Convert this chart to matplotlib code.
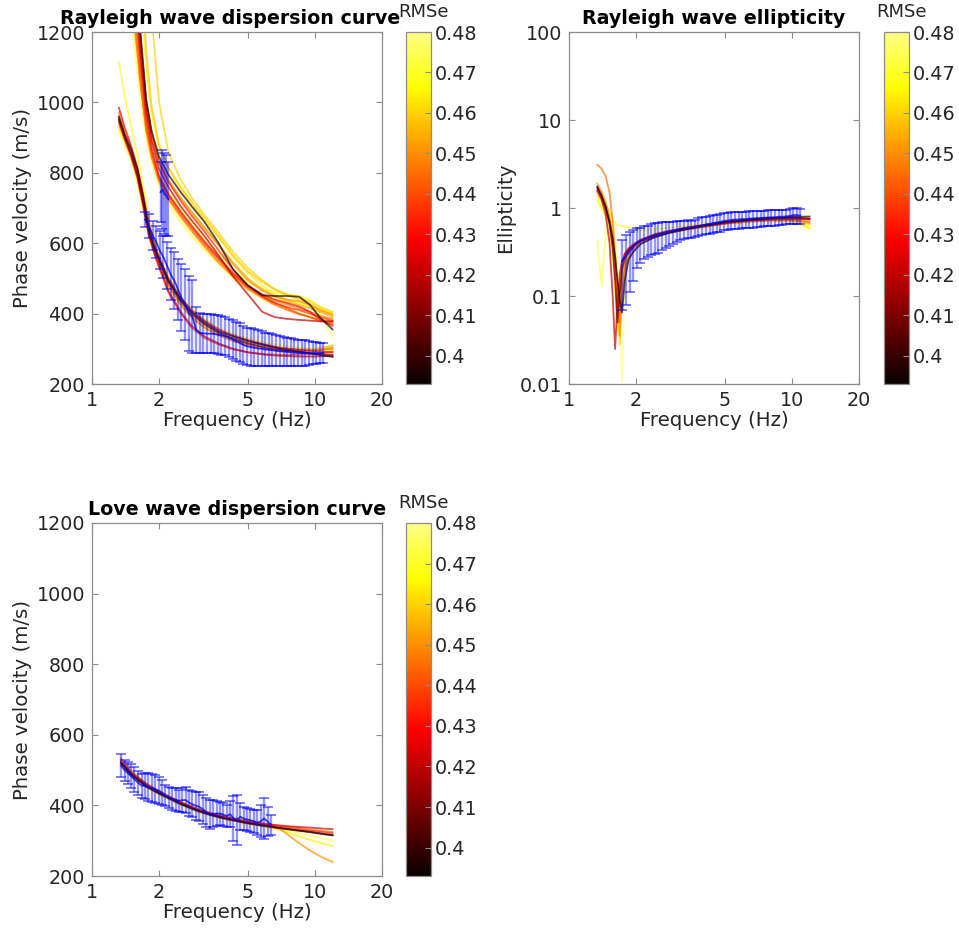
import matplotlib
matplotlib.use("Agg")
import matplotlib.pyplot as plt
from matplotlib.colors import ListedColormap, Normalize
from matplotlib.cm import ScalarMappable
from matplotlib.ticker import FixedLocator, FuncFormatter, NullLocator

# ---------------- observed data ----------------
# Rayleigh fundamental mode + ellipticity share the same frequency samples
obs_freq = [1.73, 1.80, 1.87, 1.94, 2.01, 2.09, 2.17, 2.25, 2.34, 2.43,
            2.52, 2.62, 2.72, 2.82, 2.93, 3.04, 3.16, 3.28, 3.41, 3.54,
            3.67, 3.81, 3.96, 4.11, 4.27, 4.43, 4.60, 4.78, 4.96, 5.15,
            5.35, 5.55, 5.77, 5.99, 6.22, 6.45, 6.70, 6.96, 7.23, 7.50,
            7.79, 8.09, 8.40, 8.72, 9.06, 9.40, 9.76, 10.1, 10.5, 10.9]
ray_obs_mean = [667, 648, 623, 604, 580, 561, 537, 512, 494, 469,
                445, 426, 401, 392, 354, 345, 344, 343, 343, 342,
                340, 338, 336, 332, 327, 321, 317, 311, 307, 305,
                303, 301, 300, 298, 297, 296, 294, 293, 292, 291,
                290, 289, 288, 288, 288, 288, 288, 288, 288, 288]
ray_obs_std = [22, 34, 41, 46, 54, 59, 67, 74, 80, 87,
               95, 100, 107, 104, 66, 57, 56, 55, 55, 54,
               55, 55, 54, 54, 55, 55, 55, 54, 53, 53,
               52, 51, 50, 48, 47, 46, 44, 43, 42, 41,
               40, 39, 38, 37, 36, 34, 32, 30, 29, 28]

ray1_obs_freq = [2.03, 2.07, 2.11, 2.15, 2.20]
ray1_obs_mean = [745, 752, 740, 735, 725]
ray1_obs_std = [85, 112, 115, 115, 105]

ell_obs_mean = [0.25, 0.285, 0.32, 0.355, 0.40, 0.42, 0.44, 0.455, 0.47, 0.485,
                0.495, 0.51, 0.52, 0.535, 0.545, 0.56, 0.575, 0.585, 0.595, 0.59,
                0.605, 0.62, 0.635, 0.65, 0.66, 0.675, 0.685, 0.695, 0.715, 0.72,
                0.73, 0.74, 0.74, 0.75, 0.75, 0.76, 0.76, 0.77, 0.77, 0.775,
                0.78, 0.785, 0.785, 0.795, 0.795, 0.805, 0.81, 0.83, 0.83, 0.82]
ell_obs_std = [0.18, 0.205, 0.21, 0.205, 0.19, 0.18, 0.18, 0.175, 0.18, 0.185,
               0.185, 0.18, 0.17, 0.165, 0.155, 0.15, 0.145, 0.135, 0.135, 0.13,
               0.135, 0.14, 0.145, 0.15, 0.15, 0.155, 0.155, 0.155, 0.155, 0.16,
               0.16, 0.16, 0.16, 0.16, 0.16, 0.16, 0.16, 0.16, 0.16, 0.155,
               0.16, 0.155, 0.155, 0.155, 0.155, 0.155, 0.16, 0.17, 0.17, 0.16]

love_obs_freq = [1.35, 1.40, 1.45, 1.50, 1.55, 1.61, 1.67, 1.73, 1.79, 1.85,
                 1.92, 1.99, 2.06, 2.13, 2.21, 2.29, 2.37, 2.45, 2.54, 2.63,
                 2.73, 2.82, 2.93, 3.03, 3.14, 3.25, 3.37, 3.49, 3.62, 3.75,
                 3.88, 4.02, 4.16, 4.31, 4.47, 4.63, 4.79, 4.97, 5.14, 5.33,
                 5.52, 5.72, 5.92, 6.14, 6.36]
love_obs_mean = [513, 500, 491, 483, 474, 464, 456, 455, 452, 450,
                 446, 442, 436, 428, 422, 418, 416, 413, 415, 415,
                 408, 403, 399, 396, 389, 381, 374, 376, 377, 377,
                 374, 370, 375, 364, 359, 368, 363, 360, 358, 355,
                 351, 355, 363, 354, 345]
love_obs_std = [32, 30, 31, 35, 36, 34, 34, 37, 40, 40,
                39, 38, 36, 31, 30, 31, 32, 32, 35, 37,
                37, 37, 39, 41, 41, 41, 42, 38, 35, 33,
                32, 30, 37, 64, 71, 38, 33, 32, 33, 33,
                36, 45, 57, 42, 29]

# ---------------- model curves ----------------
ray0_freq = [1.32, 1.4, 1.5, 1.6, 1.7, 1.8, 1.9, 2.0, 2.2, 2.5,
             2.8, 3.2, 3.7, 4.3, 5.0, 6.0, 7.0, 8.5, 10.0, 12.0]
ray0_rmse = [0.475, 0.47, 0.46, 0.45, 0.445, 0.44, 0.43, 0.425, 0.41, 0.395]
ray0_curves = [
    [920, 880, 835, 770, 690, 615, 570, 535, 475, 420, 385, 358, 340, 325, 314, 305, 300, 297, 296, 295],
    [1115, 1020, 930, 850, 760, 670, 610, 565, 505, 450, 415, 385, 360, 343, 330, 318, 310, 303, 300, 297],
    [930, 890, 840, 780, 705, 625, 580, 545, 485, 430, 395, 365, 342, 327, 315, 305, 300, 298, 300, 310],
    [970, 920, 870, 805, 720, 640, 590, 550, 490, 435, 398, 368, 345, 330, 318, 308, 302, 298, 296, 305],
    [940, 895, 845, 785, 700, 620, 575, 540, 480, 425, 390, 360, 338, 322, 310, 300, 295, 293, 295, 300],
    [945, 898, 848, 788, 705, 622, 570, 530, 460, 400, 360, 330, 312, 298, 290, 285, 283, 283, 285, 292],
    [985, 930, 875, 815, 735, 655, 600, 560, 500, 445, 410, 380, 355, 338, 325, 312, 303, 297, 293, 290],
    [955, 905, 855, 795, 715, 630, 575, 535, 465, 405, 365, 335, 315, 300, 290, 283, 280, 278, 278, 280],
    [950, 900, 850, 790, 710, 630, 585, 550, 490, 435, 400, 370, 345, 328, 315, 303, 296, 290, 286, 283],
    [960, 910, 865, 810, 730, 640, 590, 555, 495, 440, 405, 375, 350, 335, 322, 310, 300, 292, 285, 277],
]

ray1_freq = [1.45, 1.55, 1.65, 1.75, 1.85, 2.0, 2.2, 2.5, 2.8, 3.2,
             3.7, 4.3, 5.0, 5.8, 6.6, 7.5, 8.5, 9.5, 10.5, 12.0]
ray1_rmse = [0.48, 0.475, 0.47, 0.465, 0.46, 0.458, 0.455, 0.45, 0.448,
             0.445, 0.44, 0.435, 0.43, 0.42, 0.395]
ray1_curves = [
    [1300, 1150, 1010, 900, 835, 770, 720, 668, 628, 585, 543, 500, 465, 440, 425, 415, 405, 395, 385, 375],
    [1400, 1200, 1030, 900, 830, 760, 710, 660, 620, 580, 540, 500, 470, 450, 440, 435, 430, 420, 400, 335],
    [1550, 1280, 1080, 935, 860, 790, 745, 700, 660, 615, 570, 525, 490, 470, 460, 455, 450, 440, 420, 400],
    [2000, 1700, 1350, 1100, 970, 870, 810, 755, 710, 665, 615, 560, 515, 480, 455, 440, 430, 420, 410, 400],
    [2500, 2200, 1900, 1500, 1250, 1000, 860, 780, 730, 680, 630, 575, 530, 495, 470, 455, 445, 435, 420, 405],
    [2200, 1800, 1450, 1150, 990, 880, 815, 760, 718, 672, 620, 565, 520, 490, 468, 452, 440, 428, 414, 398],
    [1650, 1350, 1130, 980, 900, 825, 775, 725, 685, 640, 595, 545, 500, 470, 450, 435, 425, 415, 405, 390],
    [1750, 1400, 1160, 990, 905, 830, 780, 730, 690, 645, 595, 540, 495, 465, 448, 440, 435, 425, 410, 395],
    [1450, 1220, 1050, 925, 850, 780, 730, 680, 640, 596, 552, 510, 476, 452, 436, 425, 415, 405, 395, 385],
    [1500, 1250, 1060, 920, 845, 775, 725, 675, 635, 590, 545, 505, 470, 445, 425, 410, 398, 390, 383, 375],
    [1600, 1300, 1090, 940, 860, 785, 735, 685, 645, 600, 555, 510, 475, 450, 430, 415, 400, 390, 380, 370],
    [1850, 1450, 1180, 1000, 910, 830, 775, 720, 678, 632, 580, 525, 480, 448, 430, 418, 410, 400, 390, 380],
    [1700, 1350, 1120, 960, 870, 790, 740, 690, 650, 605, 560, 515, 480, 455, 440, 430, 420, 405, 385, 365],
    [1800, 1400, 1150, 980, 890, 810, 760, 705, 665, 620, 565, 505, 455, 405, 390, 385, 382, 380, 378, 378],
    [1900, 1500, 1200, 1010, 920, 845, 795, 745, 705, 660, 600, 525, 480, 452, 450, 450, 448, 425, 390, 355],
]

ell_freq = [1.34, 1.4, 1.46, 1.52, 1.57, 1.61, 1.65, 1.69, 1.73, 1.78, 1.85,
            1.95, 2.1, 2.4, 2.8, 3.4, 4.2, 5.2, 6.5, 8.0, 10.0, 12.0]
ell_rmse = [0.48, 0.475, 0.47, 0.465, 0.46, 0.45, 0.445, 0.435, 0.42, 0.41, 0.395]
ell_curves = [
    [1.3, 1.1, 0.85, 0.6, 0.4, 0.25, 0.12, 0.05, 0.0105, 0.15, 0.3, 0.38, 0.42, 0.47, 0.52, 0.58, 0.63, 0.68, 0.72, 0.73, 0.72, 0.62],
    [0.43, 0.13, 0.5, 0.9, 0.75, 0.45, 0.2, 0.09, 0.14, 0.22, 0.3, 0.36, 0.41, 0.47, 0.52, 0.57, 0.62, 0.67, 0.71, 0.73, 0.72, 0.66],
    [1.5, 1.3, 1.1, 0.9, 0.75, 0.68, 0.64, 0.63, 0.62, 0.62, 0.6, 0.58, 0.56, 0.57, 0.6, 0.63, 0.66, 0.7, 0.73, 0.74, 0.72, 0.58],
    [1.2, 1.0, 0.8, 0.55, 0.3, 0.12, 0.04, 0.08, 0.18, 0.27, 0.33, 0.37, 0.41, 0.47, 0.52, 0.57, 0.62, 0.67, 0.7, 0.71, 0.7, 0.6],
    [1.4, 1.2, 0.95, 0.7, 0.45, 0.22, 0.07, 0.028, 0.1, 0.22, 0.3, 0.36, 0.41, 0.47, 0.52, 0.57, 0.62, 0.67, 0.71, 0.73, 0.73, 0.65],
    [1.9, 1.55, 1.2, 0.8, 0.5, 0.25, 0.09, 0.035, 0.12, 0.24, 0.32, 0.37, 0.42, 0.48, 0.53, 0.59, 0.64, 0.69, 0.72, 0.74, 0.73, 0.68],
    [3.1, 2.8, 2.3, 1.5, 0.7, 0.3, 0.12, 0.05, 0.1, 0.2, 0.28, 0.34, 0.4, 0.47, 0.52, 0.57, 0.62, 0.67, 0.7, 0.72, 0.72, 0.7],
    [1.55, 1.3, 1.0, 0.7, 0.42, 0.2, 0.07, 0.12, 0.22, 0.3, 0.35, 0.39, 0.44, 0.49, 0.54, 0.6, 0.65, 0.7, 0.74, 0.76, 0.77, 0.75],
    [1.6, 1.25, 0.85, 0.4, 0.1, 0.025, 0.08, 0.18, 0.25, 0.3, 0.34, 0.37, 0.42, 0.48, 0.53, 0.58, 0.63, 0.68, 0.72, 0.74, 0.75, 0.74],
    [1.7, 1.35, 1.0, 0.65, 0.35, 0.15, 0.05, 0.1, 0.2, 0.27, 0.33, 0.38, 0.43, 0.5, 0.55, 0.6, 0.65, 0.7, 0.73, 0.76, 0.78, 0.76],
    [1.75, 1.4, 1.05, 0.7, 0.45, 0.28, 0.15, 0.09, 0.065, 0.15, 0.26, 0.32, 0.39, 0.46, 0.52, 0.58, 0.64, 0.70, 0.74, 0.77, 0.79, 0.80],
]

love_freq = [1.35, 1.5, 1.75, 2.0, 2.5, 3.0, 3.5, 4.0, 5.0, 6.0,
             7.0, 8.0, 9.0, 10.0, 11.0, 12.0]
love_rmse = [0.475, 0.465, 0.45, 0.445, 0.435, 0.425, 0.41, 0.395]
love_curves = [
    [510, 480, 450, 430, 400, 381, 368, 359, 347, 339, 333, 325, 318, 311, 305, 300],
    [515, 485, 452, 432, 402, 383, 370, 361, 348, 339, 330, 318, 307, 298, 291, 285],
    [535, 498, 462, 440, 408, 387, 373, 364, 352, 344, 333, 305, 282, 264, 250, 240],
    [530, 495, 462, 440, 410, 390, 377, 368, 356, 348, 342, 338, 334, 330, 327, 325],
    [522, 490, 457, 436, 406, 386, 373, 364, 352, 345, 339, 334, 330, 327, 324, 321],
    [525, 492, 460, 438, 408, 388, 375, 366, 354, 347, 343, 340, 338, 336, 334, 333],
    [518, 486, 453, 433, 403, 383, 370, 361, 349, 341, 335, 330, 326, 322, 318, 315],
    [520, 488, 455, 435, 405, 385, 372, 363, 350, 342, 336, 331, 327, 323, 319, 316],
]

# ---------------- style ----------------
FIG_W, FIG_H = 959, 934
CMAP = ListedColormap(plt.cm.hot([i / 255 * 0.88 for i in range(256)]))
NORM = Normalize(vmin=0.393, vmax=0.48)
CB_TICKS = [0.40, 0.41, 0.42, 0.43, 0.44, 0.45, 0.46, 0.47, 0.48]
TXT = "#262626"
FRAME = "#8c8c8c"
FS_TICK = 13.8
FS_LABEL = 14.2
FS_TITLE = 13.7

plt.rcParams["font.family"] = ["DejaVu Sans"]
gfmt = FuncFormatter(lambda v, p: f"{v:g}")


def px_axes(fig, left, top, right, bottom):
    return fig.add_axes([left / FIG_W, 1 - bottom / FIG_H,
                         (right - left) / FIG_W, (bottom - top) / FIG_H])


def style_axes(ax, ylim, yticks, ylabel, title, logy=False, title_x=0.5):
    ax.set_xscale("log")
    if logy:
        ax.set_yscale("log")
    ax.set_xlim(1, 20)
    ax.set_ylim(*ylim)
    ax.xaxis.set_major_locator(FixedLocator([1, 2, 5, 10, 20]))
    ax.xaxis.set_major_formatter(gfmt)
    ax.xaxis.set_minor_locator(NullLocator())
    ax.yaxis.set_major_locator(FixedLocator(yticks))
    ax.yaxis.set_major_formatter(gfmt)
    ax.yaxis.set_minor_locator(NullLocator())
    ax.tick_params(direction="in", length=4, width=0.8, colors=FRAME,
                   labelcolor=TXT, labelsize=FS_TICK, top=True, right=True, pad=5)
    for s in ax.spines.values():
        s.set_color(FRAME)
        s.set_linewidth(0.9)
    ax.set_xlabel("Frequency (Hz)", fontsize=FS_LABEL, color=TXT, labelpad=1)
    ax.set_ylabel(ylabel, fontsize=FS_LABEL, color=TXT, labelpad=3)
    ax.set_title(title, fontsize=FS_TITLE, fontweight="bold", pad=6, x=title_x)


def draw_models(ax, freq, curves, rmse):
    order = sorted(range(len(curves)), key=lambda i: -rmse[i])
    for i in order:
        ax.plot(freq, curves[i], color=CMAP(NORM(rmse[i])), lw=1.3, alpha=0.7)


def draw_obs(ax, freq, mean, std):
    line, caps, bars = ax.errorbar(freq, mean, yerr=std, color="blue", lw=1.3,
                                   elinewidth=1.7, capsize=3.5, capthick=1.3)
    line.set_alpha(0.75)
    for c in caps:
        c.set_alpha(0.55)
    for b in bars:
        b.set_alpha(0.42)


def add_cbar(fig, cax):
    cb = fig.colorbar(ScalarMappable(norm=NORM, cmap=CMAP), cax=cax, ticks=CB_TICKS)
    cb.ax.yaxis.set_major_formatter(gfmt)
    cb.ax.tick_params(direction="in", length=4, colors=FRAME, labelcolor=TXT,
                      labelsize=FS_TICK, pad=3)
    cb.outline.set_edgecolor(FRAME)
    cb.outline.set_linewidth(0.9)
    # colorbar label sits above the bar
    cax.text(0.7, 1.03, "RMSe", transform=cax.transAxes, ha="center", va="bottom",
             fontsize=13, color=TXT)


fig = plt.figure(figsize=(FIG_W / 100, FIG_H / 100), dpi=100)

# Rayleigh dispersion
ax1 = px_axes(fig, 92, 32, 382, 384)
draw_models(ax1, ray0_freq, ray0_curves, ray0_rmse)
draw_models(ax1, ray1_freq, ray1_curves, ray1_rmse)
draw_obs(ax1, obs_freq, ray_obs_mean, ray_obs_std)
draw_obs(ax1, ray1_obs_freq, ray1_obs_mean, ray1_obs_std)
style_axes(ax1, (200, 1200), [200, 400, 600, 800, 1000, 1200],
           "Phase velocity (m/s)", "Rayleigh wave dispersion curve", title_x=0.475)
add_cbar(fig, px_axes(fig, 406, 32, 431, 384))

# Rayleigh ellipticity
ax2 = px_axes(fig, 569, 32, 859, 384)
draw_models(ax2, ell_freq, ell_curves, ell_rmse)
draw_obs(ax2, obs_freq, ell_obs_mean, ell_obs_std)
style_axes(ax2, (0.01, 100), [0.01, 0.1, 1, 10, 100], "Ellipticity",
           "Rayleigh wave ellipticity", logy=True)
add_cbar(fig, px_axes(fig, 884, 32, 909, 384))

# Love dispersion
ax3 = px_axes(fig, 92, 523, 382, 876)
draw_models(ax3, love_freq, love_curves, love_rmse)
draw_obs(ax3, love_obs_freq, love_obs_mean, love_obs_std)
style_axes(ax3, (200, 1200), [200, 400, 600, 800, 1000, 1200],
           "Phase velocity (m/s)", "Love wave dispersion curve")
add_cbar(fig, px_axes(fig, 406, 523, 431, 876))

fig.savefig("out.png", dpi=100, facecolor="white")
